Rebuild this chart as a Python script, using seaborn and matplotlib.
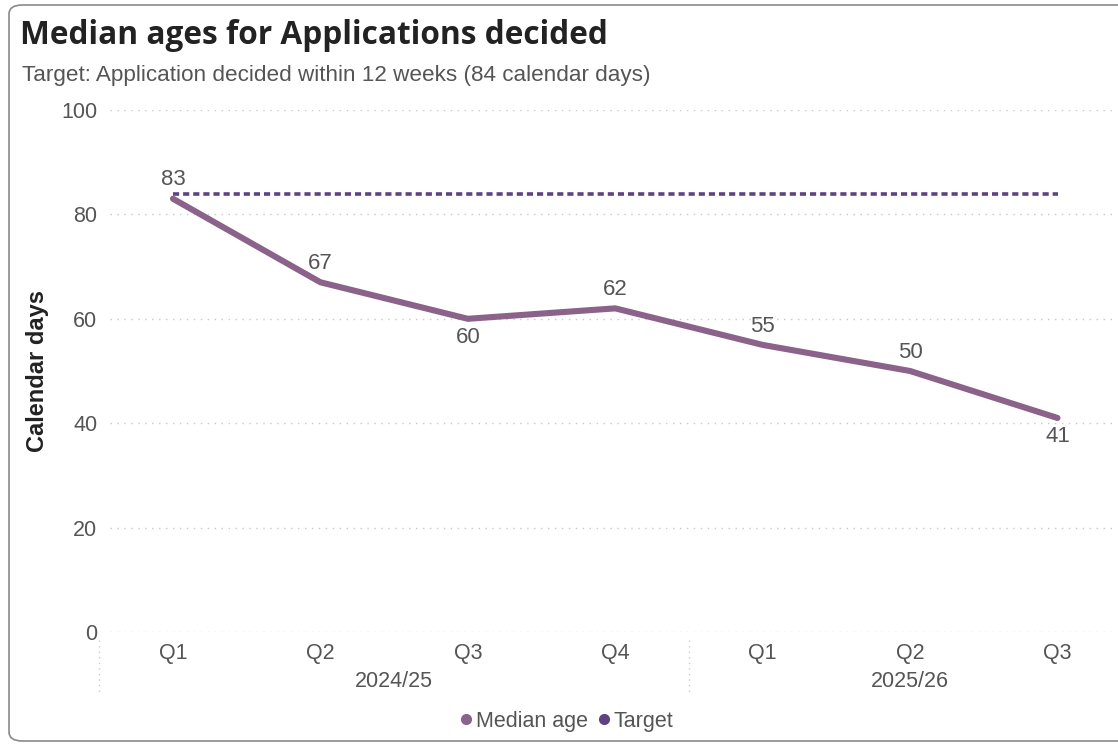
import matplotlib
matplotlib.use("Agg")
import matplotlib.pyplot as plt
from matplotlib.patches import FancyBboxPatch
from matplotlib.lines import Line2D
import seaborn as sns
import pandas as pd

quarters = ["Q1", "Q2", "Q3", "Q4", "Q1", "Q2", "Q3"]
years = ["2024/25", "2025/26"]
year_spans = [(0, 3), (4, 6)]
median_age = [83, 67, 60, 62, 55, 50, 41]
target = [84, 84, 84, 84, 84, 84, 84]
label_above = [True, True, False, True, True, True, False]

median_color = "#8B6289"
target_color = "#5E4382"
text_color = "#555555"

sns.set_theme(style="white")
plt.rcParams["font.family"] = ["Liberation Sans", "DejaVu Sans"]

W, H = 1118, 744
fig = plt.figure(figsize=(W / 100, H / 100), dpi=100)

# Axes placed in pixel units
left, right, top, bottom = 110, 1115, 110, 632
ax = fig.add_axes([left / W, 1 - bottom / H, (right - left) / W, (bottom - top) / H])

df = pd.DataFrame({"pos": range(len(quarters)), "median": median_age, "target": target})

sns.lineplot(data=df, x="pos", y="target", ax=ax, color=target_color,
             linewidth=2.6, linestyle=(0, (1.7, 1.1)), zorder=3)
sns.lineplot(data=df, x="pos", y="median", ax=ax, color=median_color,
             linewidth=4.4, solid_capstyle="round", solid_joinstyle="round", zorder=4)

ax.set_xlim(-0.427, 6.39)
ax.set_ylim(0, 100)
ax.set_yticks([0, 20, 40, 60, 80, 100])
ax.yaxis.grid(True, color="#c8c8c8", linestyle=(0, (1, 4)), linewidth=1)
ax.xaxis.grid(False)
for s in ax.spines.values():
    s.set_visible(False)

ax.tick_params(axis="y", length=0, pad=9, labelsize=15.5, labelcolor=text_color)
ax.set_xticks(range(len(quarters)))
ax.set_xticklabels(quarters)
ax.tick_params(axis="x", length=0, pad=8, labelsize=15.5, labelcolor=text_color)
ax.set_xlabel("")
ax.set_ylabel("Calendar days", fontsize=17, fontweight="bold", color="#222222", labelpad=9)

# Data labels
for i, (v, up) in enumerate(zip(median_age, label_above)):
    ax.annotate(str(v), (i, v), xytext=(0, 6 if up else -6), textcoords="offset points",
                ha="center", va="bottom" if up else "top", fontsize=16, color=text_color)

# Year group labels and separators
for name, (a, b) in zip(years, year_spans):
    ax.annotate(name, ((a + b) / 2, 0), xytext=(0, -28), textcoords="offset points",
                ha="center", va="top", fontsize=15.5, color=text_color, annotation_clip=False)
for sep in [-0.5, 3.5]:
    ax.plot([sep, sep], [-1.5, -11.5], color="#cccccc", linestyle=(0, (1, 3)),
            linewidth=1, clip_on=False)

# Title and subtitle
fig.text(20 / W, 1 - 36 / H, "Median ages for Applications decided", fontsize=22.8,
         fontweight="bold", color="#222222", va="center", ha="left",
         family=["Open Sans", "DejaVu Sans"])
fig.text(22 / W, 1 - 75 / H, "Target: Application decided within 12 weeks (84 calendar days)",
         fontsize=16.2, color=text_color, va="center", ha="left")

# Legend
handles = [
    Line2D([], [], marker="o", linestyle="none", color=median_color, markersize=7, label="Median age"),
    Line2D([], [], marker="o", linestyle="none", color=target_color, markersize=7, label="Target"),
]
fig.legend(handles=handles, loc="center", bbox_to_anchor=(565 / W, 1 - 721 / H), ncol=2,
           frameon=False, fontsize=15.5, handletextpad=0.0, columnspacing=0.3,
           labelcolor=text_color, handlelength=0.9)

# Card border
fig.patches.append(FancyBboxPatch((9 / W, 3 / H), (W + 20) / W, (H - 8) / H,
                                  boxstyle="round,pad=0,rounding_size=0.012",
                                  transform=fig.transFigure, fill=False,
                                  edgecolor="#8a8a8a", linewidth=1.2))

fig.savefig("out.png", dpi=100)
